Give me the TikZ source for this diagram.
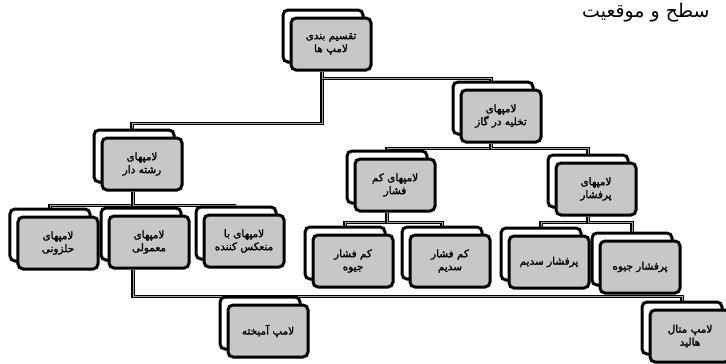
\documentclass[tikz,border=0pt]{standalone}
\usepackage{fontspec}
\newfontfamily\arabicfont[Script=Arabic]{DejaVu Sans}
\newfontfamily\arabicbold[Script=Arabic, FakeBold=1.6]{DejaVu Sans}
\TeXXeTstate=1
\usetikzlibrary{shadows,backgrounds}
\newcommand{\rl}[1]{\beginR#1\endR}

\begin{document}
\begin{tikzpicture}[x=1bp,y=-1bp,
        lamp/.style={draw=black, line width=3bp, fill=black!22, rounded corners=5bp,
            minimum width=80bp, minimum height=52bp, align=center, inner sep=2bp,
            font=\arabicbold\fontsize{10.5}{13}\selectfont,
            copy shadow={shadow xshift=-8bp, shadow yshift=8bp, fill=white, draw=black, line width=3bp}},
        link/.style={line width=1.4bp, double=black!35, double distance=1bp}]
        \useasboundingbox (0,0) rectangle (726,363);
        \node[font=\arabicfont\fontsize{19}{21}\selectfont, anchor=west, inner sep=0pt] (title) at (582,13) {\rl{سطح و موقعیت}};
        \node[lamp] (root) at (331,44) {\rl{تقسیم بندی}\\\rl{لامپ ها}};
        \node[lamp] (takh) at (501,116) {\rl{لامپهای}\\\rl{تخلیه در گاز}};
        \node[lamp] (reshteh) at (142,164) {\rl{لامپهای}\\\rl{رشته دار}};
        \node[lamp] (kam) at (395,185) {\rl{لامپهای کم}\\\rl{فشار}};
        \node[lamp] (por) at (596,189) {\rl{لامپهای}\\\rl{پرفشار}};
        \node[lamp] (halaz) at (58,243) {\rl{لامپهای}\\\rl{حلزونی}};
        \node[lamp] (mamooli) at (149,242) {\rl{لامپهای}\\\rl{معمولی}};
        \node[lamp] (monakes) at (244,241) {\rl{لامپهای با}\\\rl{منعکس کننده}};
        \node[lamp] (kamjiveh) at (353,261) {\rl{کم فشار}\\\rl{جیوه}};
        \node[lamp] (kamsodium) at (450,261) {\rl{کم فشار}\\\rl{سدیم}};
        \node[lamp] (porsodium) at (549,262) {\rl{پرفشار سدیم}};
        \node[lamp] (porjiveh) at (640,267) {\rl{پرفشار جیوه}};
        \node[lamp] (amikhteh) at (268,331) {\rl{لامپ آمیخته}};
        \node[lamp] (metal) at (690,336) {\rl{لامپ متال}\\\rl{هالید}};
        \begin{scope}[on background layer]
            \draw[link] ([xshift=-9bp]root.south) -- ++(0,52) -| ([xshift=-10bp,yshift=8bp]reshteh.north);
            \draw[link] ([xshift=-9bp]root.south) -- ++(0,7) -| ([xshift=-10bp,yshift=8bp]takh.north);
            \draw[link] ([xshift=-10bp]takh.south) -- ++(0,5) -| ([xshift=-8bp,yshift=8bp]kam.north);
            \draw[link] ([xshift=-10bp]takh.south) -- ++(0,5) -| ([xshift=-8bp,yshift=8bp]por.north);
            \draw[link] ([xshift=-9bp]reshteh.south) -- ++(0,14) -| ([xshift=-8bp,yshift=8bp]halaz.north);
            \draw[link] ([xshift=-9bp]reshteh.south) -- ++(0,14) -| ([xshift=-8bp,yshift=8bp]mamooli.north);
            \draw[link] ([xshift=-9bp]reshteh.south) -- ++(0,14) -| ([xshift=-8bp,yshift=8bp]monakes.north);
            \draw[link] ([xshift=-8bp]kam.south) -- ++(0,10) -| ([xshift=-8bp,yshift=8bp]kamjiveh.north);
            \draw[link] ([xshift=-8bp]kam.south) -- ++(0,10) -| ([xshift=-8bp,yshift=8bp]kamsodium.north);
            \draw[link] ([xshift=-8bp]por.south) -- ++(0,6) -| ([xshift=-8bp,yshift=8bp]porsodium.north);
            \draw[link] ([xshift=-8bp]por.south) -- ++(0,6) -| ([xshift=-8bp,yshift=8bp]porjiveh.north);
            \draw[link] ([xshift=-16bp]mamooli.south) -- ++(0,27) -| ([xshift=-8bp,yshift=8bp]amikhteh.north);
            \draw[link] ([xshift=-16bp]mamooli.south) -- ++(0,27) -| ([xshift=-8bp,yshift=8bp]metal.north);
        \end{scope}
\end{tikzpicture}
\end{document}
